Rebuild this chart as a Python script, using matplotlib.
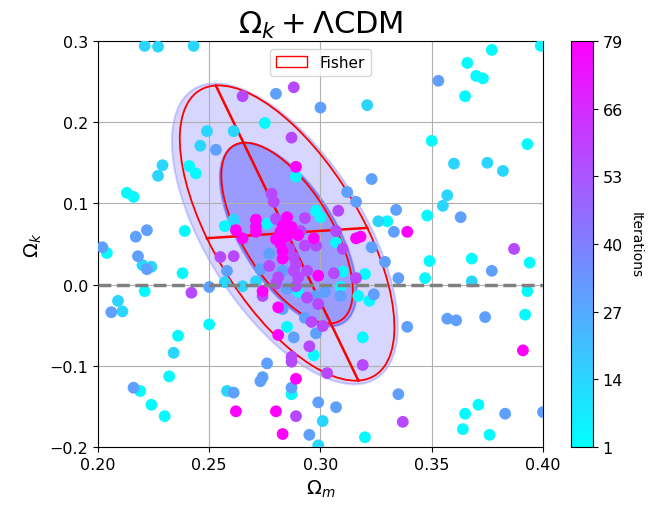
import numpy as np
import matplotlib.pyplot as plt
from matplotlib.patches import Ellipse, Patch

# sampled points (Omega_m, Omega_k) and the iteration at which each was drawn
omega_m = [0.221, 0.227, 0.243, 0.377, 0.399, 0.366, 0.353, 0.370, 0.373, 0.365,
           0.300, 0.321, 0.350, 0.393, 0.360, 0.375, 0.382, 0.323, 0.357, 0.312,
           0.316, 0.355, 0.334, 0.348, 0.363, 0.326, 0.330, 0.333, 0.339, 0.308,
           0.298, 0.300, 0.307, 0.316, 0.318, 0.323, 0.387, 0.280, 0.288, 0.265,
           0.275, 0.249, 0.261, 0.287, 0.246, 0.253, 0.229, 0.227, 0.241, 0.244,
           0.213, 0.216, 0.289, 0.289, 0.278, 0.279, 0.293, 0.261, 0.271, 0.276,
           0.217, 0.222, 0.239, 0.202, 0.204, 0.218, 0.220, 0.224, 0.222, 0.238,
           0.221, 0.242, 0.209, 0.206, 0.211, 0.250, 0.250, 0.255, 0.261, 0.258,
           0.257, 0.236, 0.234, 0.232, 0.216, 0.219, 0.224, 0.230, 0.262, 0.258,
           0.261, 0.276, 0.274, 0.273, 0.274, 0.281, 0.283, 0.281, 0.285, 0.288,
           0.287, 0.287, 0.289, 0.287, 0.287, 0.280, 0.289, 0.283, 0.295, 0.299,
           0.301, 0.299, 0.295, 0.298, 0.297, 0.293, 0.296, 0.301, 0.294, 0.299,
           0.303, 0.319, 0.319, 0.307, 0.320, 0.337, 0.335, 0.329, 0.335, 0.347,
           0.349, 0.368, 0.377, 0.368, 0.394, 0.393, 0.357, 0.361, 0.374, 0.392,
           0.391, 0.339, 0.365, 0.371, 0.364, 0.376, 0.383, 0.400, 0.271, 0.271,
           0.262, 0.265, 0.280, 0.285, 0.283, 0.282, 0.287, 0.290, 0.285, 0.280,
           0.282, 0.283, 0.283, 0.291, 0.297, 0.293, 0.298, 0.286, 0.288, 0.289,
           0.288, 0.290, 0.294, 0.299, 0.306, 0.307, 0.310, 0.320, 0.316, 0.310,
           0.309, 0.302, 0.309, 0.317, 0.322, 0.324, 0.257, 0.265, 0.271, 0.273,
           0.277, 0.274, 0.281, 0.283, 0.289, 0.290, 0.298, 0.285, 0.277, 0.280]
omega_k = [0.294, 0.293, 0.294, 0.289, 0.294, 0.273, 0.251, 0.257, 0.254, 0.232,
           0.218, 0.221, 0.177, 0.173, 0.149, 0.150, 0.140, 0.130, 0.110, 0.114,
           0.102, 0.097, 0.092, 0.085, 0.083, 0.078, 0.078, 0.065, 0.065, 0.091,
           0.091, 0.083, 0.066, 0.057, 0.059, 0.046, 0.044, 0.235, 0.243, 0.232,
           0.199, 0.189, 0.189, 0.181, 0.171, 0.166, 0.147, 0.134, 0.146, 0.137,
           0.113, 0.108, 0.145, 0.133, 0.112, 0.102, 0.082, 0.080, 0.080, 0.075,
           0.059, 0.067, 0.066, 0.046, 0.039, 0.035, 0.024, 0.022, 0.019, 0.014,
           -0.008, -0.010, -0.020, -0.034, -0.033, -0.003, -0.049, 0.034, 0.035, 0.017,
           0.003, -0.063, -0.084, -0.113, -0.127, -0.131, -0.148, -0.162, -0.156, -0.131,
           -0.133, -0.097, -0.114, -0.119, -0.008, -0.028, -0.030, -0.062, -0.052, -0.065,
           -0.089, -0.095, -0.116, -0.127, -0.135, -0.156, -0.162, -0.184, -0.185, -0.145,
           -0.168, -0.198, -0.076, -0.060, -0.087, -0.041, -0.046, -0.051, -0.016, -0.024,
           -0.109, -0.099, -0.065, -0.151, -0.188, -0.169, -0.135, 0.028, 0.008, 0.008,
           0.029, 0.032, 0.017, 0.004, 0.027, -0.008, -0.042, -0.044, -0.040, -0.037,
           -0.081, -0.052, -0.159, -0.148, -0.178, -0.185, -0.159, -0.157, 0.071, 0.065,
           0.067, 0.057, 0.081, 0.083, 0.072, 0.065, 0.071, 0.061, 0.059, 0.056,
           0.050, 0.041, 0.032, 0.066, 0.057, 0.048, 0.048, 0.044, 0.034, 0.025,
           0.017, 0.009, 0.017, 0.011, 0.014, 0.052, 0.044, 0.013, 0.008, 0.016,
           -0.003, -0.009, -0.014, -0.014, -0.020, -0.012, 0.072, -0.002, 0.004, 0.019,
           0.023, -0.014, 0.009, 0.017, -0.002, -0.009, -0.014, -0.005, 0.038, 0.001]
iteration = [14, 14, 14, 3, 3, 3, 30, 3, 3, 3,
             30, 14, 3, 3, 14, 14, 14, 30, 14, 30,
             30, 14, 30, 3, 30, 14, 3, 30, 79, 57,
             3, 3, 57, 79, 79, 30, 57, 30, 57, 57,
             3, 14, 14, 57, 14, 30, 14, 14, 3, 3,
             3, 3, 79, 3, 57, 57, 57, 14, 79, 3,
             30, 30, 3, 30, 3, 30, 14, 14, 30, 3,
             3, 57, 14, 30, 14, 30, 3, 57, 57, 30,
             14, 3, 14, 3, 30, 3, 3, 3, 79, 14,
             30, 30, 30, 30, 79, 79, 30, 79, 3, 30,
             57, 57, 79, 30, 3, 79, 57, 79, 30, 30,
             14, 14, 57, 30, 3, 30, 57, 57, 57, 57,
             57, 57, 3, 30, 3, 57, 30, 30, 30, 3,
             3, 3, 30, 14, 3, 3, 30, 30, 30, 3,
             79, 30, 3, 3, 3, 3, 30, 30, 79, 79,
             79, 79, 57, 79, 79, 79, 79, 79, 79, 79,
             79, 79, 79, 57, 79, 57, 57, 57, 57, 57,
             57, 57, 57, 79, 57, 3, 57, 3, 57, 3,
             3, 30, 30, 3, 3, 30, 3, 14, 14, 30,
             57, 57, 57, 30, 57, 3, 30, 30, 30, 57]

# Fisher ellipse (2 sigma) and sample-covariance ellipses
fisher_center = (0.285, 0.0635)
fisher_angle = -80.0
fisher_a2, fisher_b2 = 0.1845, 0.0366
sigma_ratio = 1.52 / 2.48
sample_center_2s = (0.284, 0.0625)
sample_ab_2s = (0.188, 0.0395)
sample_center_1s = (0.2855, 0.0615)
sample_ab_1s = (0.1145, 0.0238)

cbar_ticks = [1, 14, 27, 40, 53, 66, 79]

fig = plt.figure(figsize=(6.53, 5.06), dpi=100)
ax = fig.add_axes([0.150, 0.1146, 0.6815, 0.8024])
cax = fig.add_axes([0.8744, 0.1146, 0.0337, 0.8024])

# filled sample ellipses
for c, (a, b), al in [(sample_center_2s, sample_ab_2s, 0.16),
                      (sample_center_1s, sample_ab_1s, 0.28)]:
    ax.add_patch(Ellipse(c, 2 * a, 2 * b, angle=fisher_angle, facecolor='blue',
                         edgecolor='blue', lw=1.5, alpha=al, zorder=1))

# Fisher ellipses + axes
for s in [1.0, sigma_ratio]:
    ax.add_patch(Ellipse(fisher_center, 2 * fisher_a2 * s, 2 * fisher_b2 * s,
                         angle=fisher_angle, facecolor='none', edgecolor='red',
                         lw=1.3, zorder=2))
th = np.deg2rad(fisher_angle)
u = np.array([np.cos(th), np.sin(th)])
v = np.array([-np.sin(th), np.cos(th)])
cx, cy = fisher_center
for vec, ln in [(u, fisher_a2), (v, fisher_b2)]:
    ax.plot([cx - ln * vec[0], cx + ln * vec[0]], [cy - ln * vec[1], cy + ln * vec[1]],
            color='red', lw=1.8, zorder=2)

om = np.array(omega_m)
ok = np.array(omega_k)
it = np.array(iteration)
order = np.argsort(it, kind='stable')
sc = ax.scatter(om[order], ok[order], c=it[order], cmap='cool', vmin=1, vmax=79,
                s=72, edgecolors='none', zorder=3)

ax.axhline(0, color='gray', ls='--', lw=2.5, zorder=4)

ax.set_xlim(0.2, 0.4)
ax.set_ylim(-0.2, 0.3)
ax.set_xticks([0.20, 0.25, 0.30, 0.35, 0.40])
ax.set_yticks([-0.2, -0.1, 0.0, 0.1, 0.2, 0.3])
ax.tick_params(labelsize=11.5)
ax.grid(True)
ax.set_xlabel(r'$\Omega_m$', fontsize=14)
ax.set_ylabel(r'$\Omega_k$', fontsize=14)
ax.set_title(r'$\Omega_k + \Lambda$CDM', fontsize=22)
ax.legend(handles=[Patch(facecolor='none', edgecolor='red', label='Fisher')],
          loc='upper center', fontsize=11)

cb = fig.colorbar(sc, cax=cax, ticks=cbar_ticks)
cb.ax.tick_params(labelsize=11.5)
cb.set_label('Iterations', rotation=270, labelpad=14, fontsize=10)

fig.savefig('out.png', dpi=100)
